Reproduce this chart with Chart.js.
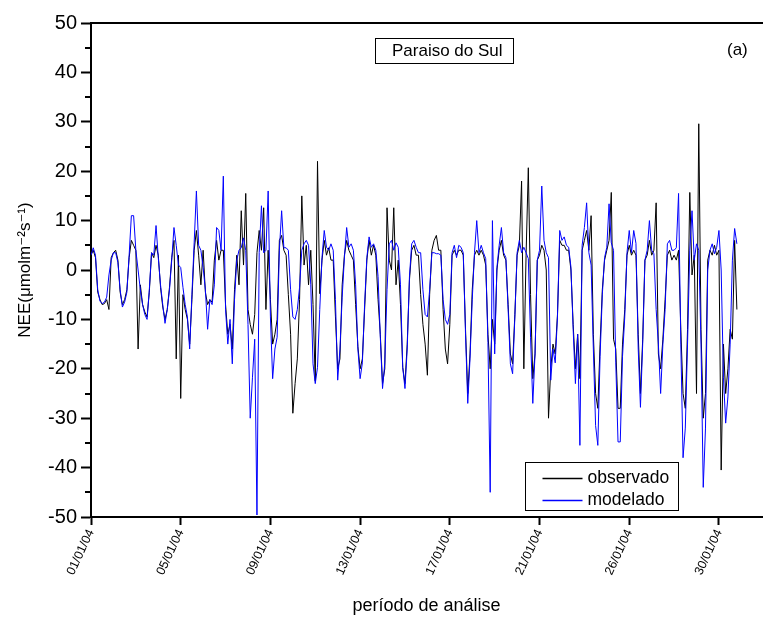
<!DOCTYPE html>
<html><head><meta charset="utf-8">
<script src="https://cdn.jsdelivr.net/npm/chart.js@4"></script>
<style>html,body{margin:0;padding:0;background:#fff}#wrap{width:763px;height:619px}</style>
</head><body><div id="wrap"><canvas id="c" width="763" height="619"></canvas></div>
<script>
// sampling step of the series (days)
const STEP_DAYS = 0.1;
// x tick positions (days since start) and their labels
const tickDays = [0, 4, 8, 12, 16, 20, 24, 28];
const tickLabels = ['01/01/04','05/01/04','09/01/04','13/01/04','17/01/04','21/01/04','26/01/04','30/01/04'];
const seriesNames = ['observado', 'modelado'];

// observed NEE (one row per day, 10 samples per day)
const observado = [
  3, 4, 2.5, -4.5, -6, -7, -6.8, -6, -8, 2.5,
  3.5, 4, 2, -4.5, -7, -6, -4, 2.5, 6, 5,
  4, -16, -3, -7, -8.5, -9.5, -4.5, 3.5, 2.5, 5,
  3, -3.5, -7.5, -10, -8, -3.5, 2.5, 6, -18, 3,
  -26, -5, -8, -10, -15, -6, 4, 8, 3, -3,
  4, -4.5, -7, -6, -6.5, 2, 6, 2, 4, 4,
  -7, -13, -11, -16, -4, 3, -3, 12, 1, 15.5,
  -8, -11, -13, -9, 3.5, 8, 4, 12.6, -8, 4,
  -6, -15, -13, -10, 6, 7, 4, 3, -5, -13,
  -29, -23, -18, -6, 15, 1, 5, -3, 4, -7,
  -22.5, 22, -4.8, 2, 6, 3, 4.5, 2, 2, -9.5,
  -20, -18, -3, 3, 6, 4, 3, 2, -7, -15.5,
  -20, -18, -8, 2, 6, 3, 5, 3, -6, -13,
  -23, -20, 12.6, 2, 0, 12.6, -3, 2, -7, -19.7,
  -23, -15, -2, 4, 5, 3, 3, -5, -11, -15,
  -21.3, -5, 4, 6, 7, 4, 4, -8, -16, -19,
  -11, 3, 4, 3, 4, 4, 3, -12, -25, -17,
  -4, 3, 4, 3, 4, 3, 1, -13, -20, -10,
  -15, 0, 4, 6, 3, 2, -7, -17, -19, -9,
  3, 5, 18, -20, 3, 20.7, -5, -22, -17, 2,
  3, 5, 4, 0, -30, -20, -15, -17, -9, 6,
  5, 5, 4, 4, 0, -11, -20, -13, -22, 4,
  6, 8, 4, 11, -13, -25, -28, -15, -4, 2,
  4, 6, 15.7, -14, -16, -28, -28, -15, -8, 3,
  5, 3, 4, 3, -13, -25, -14, 2, 3, 6,
  3, 4, 13.6, -17, -20, -14, -6, 3, 4, 2,
  3, 2, 4, -12, -25, -28, -12, 15.7, -1, 3,
  -25, 29.6, -12, -30, -25, 2, 4, 3, 5, 3,
  4, -40.5, -15, -25, -20, -12, -14, 6, -8
];

// modelled NEE (same sampling)
const modelado = [
  3, 4.5, 3, -4, -6.3, -6.8, -6.5, -5.5, -1, 2,
  3.5, 3.5, 1.5, -4, -7.5, -6.5, -4.5, 3, 11, 11,
  4, 0, -4, -7, -9, -10, -4, 3.5, 3, 9,
  2.5, -3, -7, -10.8, -8, -4, 2, 8.6, 5, 1,
  0.5, -3.5, -7, -9.5, -16, -5, 5.5, 16, 5, 4,
  0.5, -4, -12, -6, -7, -3, 8.6, 8, 4, 19,
  -8, -15, -10, -19, -6, 2, 4, 4.5, 6.5, 4,
  -11, -30, -21.7, -14, -49.6, 3.5, 13, 3.5, 4, 16,
  -9.5, -22, -16, -13.6, 4, 12, 4.5, 4.5, 4, -4,
  -9.5, -10, -8, -3.5, 4, 5.3, 6, 5, -3, -19,
  -23, -19.7, -8, 2.5, 8, 4.6, 4, 5.3, 4, -6,
  -22.3, -16, -5.5, 2.5, 8.6, 4.6, 5.3, 4, -3, -16,
  -22, -18.8, -7, 2.5, 6.7, 4.6, 5.3, 4, -1.3, -13.6,
  -24, -18.8, -4, 5.3, 6, 4, 5.5, 4.6, -3, -19.7,
  -24, -16, -1.3, 5.3, 6, 4.6, 3.5, 3.5, -4, -9,
  -9.5, -4, 3.5, 3.5, 3.3, 3.3, 3, -6, -10, -11,
  -9, 3.5, 5, 2.5, 5, 4.6, 3.5, -13, -27, -18,
  -6, 3.5, 10, 3.5, 5, 3.5, 2.3, -14.7, -45, 10,
  -17, 0.5, 5, 8.6, 3.5, 2.5, -8, -19, -21, -9.5,
  3.5, 6, 3.5, 4.6, 3.5, 2.3, -13.6, -27, -17, 2,
  4, 17, 6, 3.5, 2.5, -22.3, -16, -18.8, -9.5, 8,
  6, 6.7, 5, 4.6, 0.6, -12, -23, -13, -35.5, 5,
  8.6, 13.6, 3.5, 1, -16, -31.5, -35.5, -17.5, -5, 2.5,
  4.6, 13.4, 5.5, 4, -18.8, -34.8, -34.8, -17.5, -9.5, 3.5,
  8, 3.5, 8, 5.4, -16, -27.8, -15, 2, 4, 10,
  4, 3.3, -8, -15, -25, -15, -8, 5.3, 6, 4,
  4, 4.5, 15.5, -15, -38, -32, -15, 4, 12, 2,
  5.3, 4, -15, -44, -32, 0, 4, 5.3, 3.3, 4.6,
  8, 0, -21.7, -31, -25.7, -15, 2, 8.4, 5.3
];

const FONT = "'Liberation Sans', Arial, 'DejaVu Sans', sans-serif";
Chart.defaults.font.family = FONT;
Chart.defaults.color = '#000';

const toPoints = arr => arr.map((v, i) => ({ x: i * STEP_DAYS, y: v }));

const decor = {
  id: 'decor',
  afterDraw(chart) {
    const { ctx, chartArea: a, scales: { y } } = chart;
    ctx.save();
    ctx.strokeStyle = '#000';
    // top frame line
    ctx.lineWidth = 2;
    ctx.beginPath(); ctx.moveTo(a.left - 1, a.top); ctx.lineTo(a.right + 2, a.top); ctx.stroke();
    // minor ticks halfway between major y ticks
    const t = y.ticks;
    for (let i = 0; i < t.length - 1; i++) {
      const py = Math.round(y.getPixelForValue((t[i].value + t[i + 1].value) / 2));
      ctx.beginPath(); ctx.moveTo(a.left - 6, py); ctx.lineTo(a.left, py); ctx.stroke();
    }
    // station box
    ctx.lineWidth = 1;
    ctx.strokeRect(a.left + 284.5, a.top + 15.5, 138, 25);
    ctx.fillStyle = '#000';
    ctx.font = '17px ' + FONT;
    ctx.textBaseline = 'middle';
    ctx.textAlign = 'left';
    ctx.fillText('Paraiso do Sul', a.left + 301, a.top + 28.5);
    ctx.fillText('(a)', a.left + 636, a.top + 27);
    // legend
    const lx = a.left + 434.5, ly = a.top + 439.5;
    ctx.strokeStyle = '#000';
    ctx.strokeRect(lx, ly, 153, 48);
    chart.data.datasets.forEach((ds, i) => {
      const yy = ly + 16 + i * 22;
      ctx.strokeStyle = ds.borderColor;
      ctx.lineWidth = 1.5;
      ctx.beginPath(); ctx.moveTo(lx + 17, yy); ctx.lineTo(lx + 57, yy); ctx.stroke();
      ctx.fillStyle = '#000';
      ctx.font = '17.5px ' + FONT;
      ctx.fillText(ds.label, lx + 62, yy);
    });
    ctx.restore();
  }
};

new Chart(document.getElementById('c'), {
  type: 'line',
  data: {
    datasets: [
      { label: seriesNames[0], data: toPoints(observado), borderColor: '#000000', borderWidth: 1, pointRadius: 0, tension: 0, order: 1 },
      { label: seriesNames[1], data: toPoints(modelado), borderColor: '#0000ff', borderWidth: 1, pointRadius: 0, tension: 0, order: 0 }
    ]
  },
  options: {
    responsive: false,
    animation: false,
    events: [],
    layout: { padding: { top: 23, right: 1, left: 0, bottom: 0 } },
    plugins: { legend: { display: false }, tooltip: { enabled: false } },
    scales: {
      x: {
        type: 'linear', min: 0, max: 29.92,
        afterBuildTicks: s => { s.ticks = tickDays.map(v => ({ value: v })); },
        ticks: {
          autoSkip: false, minRotation: 65, maxRotation: 65, padding: 2,
          font: { size: 12.5 }, color: '#000',
          callback: (v, i) => tickLabels[i]
        },
        grid: { drawOnChartArea: false, tickLength: 8, tickWidth: 2, tickColor: '#000' },
        border: { color: '#000', width: 2 },
        title: { display: true, text: 'período de análise', font: { size: 18 }, color: '#000', padding: { top: 0, bottom: 2 } },
        afterFit: s => { s.height = 102; }
      },
      y: {
        min: -50, max: 50,
        ticks: { stepSize: 10, font: { size: 20 }, color: '#000', padding: 4 },
        grid: { drawOnChartArea: false, tickLength: 10, tickWidth: 2, tickColor: '#000' },
        border: { color: '#000', width: 2 },
        title: { display: true, text: 'NEE(μmolm⁻²s⁻¹)', font: { size: 17 }, color: '#000', padding: { top: 15, bottom: 0 } },
        afterFit: s => { s.width = 91; }
      }
    }
  },
  plugins: [decor]
});
</script>
</body></html>
